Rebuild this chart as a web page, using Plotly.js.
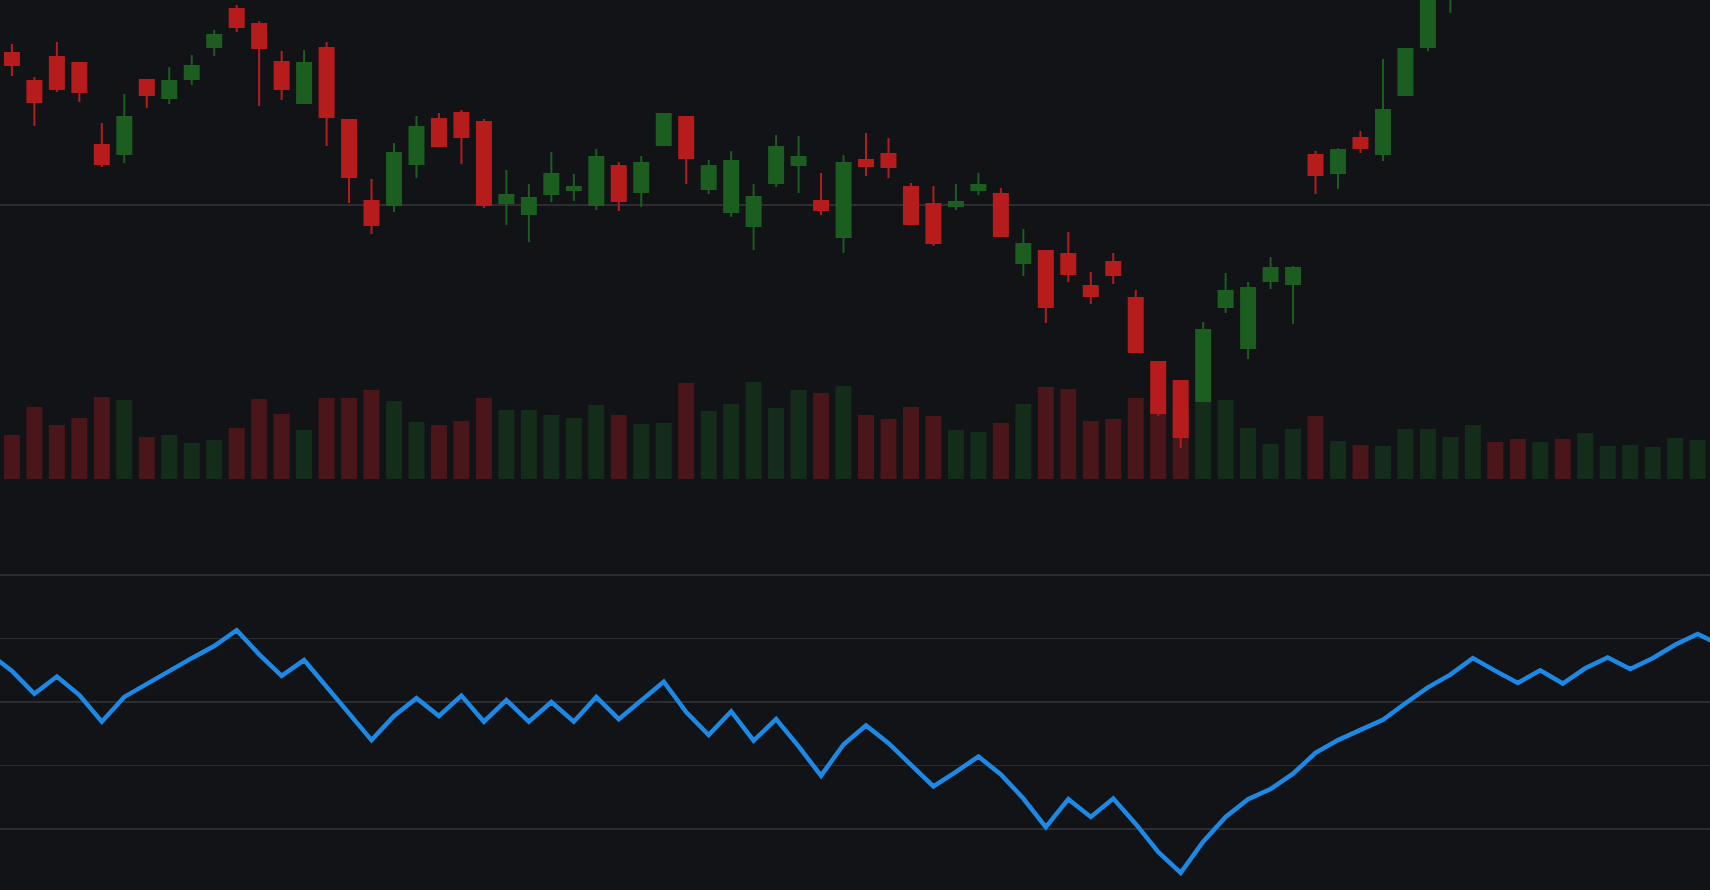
<!DOCTYPE html>
<html>
<head>
<meta charset="utf-8">
<script src="https://cdn.plot.ly/plotly-3.0.1.min.js"></script>
<style>
  html, body { margin: 0; padding: 0; background: #121317; }
  #chart { width: 1710px; height: 890px; }
</style>
</head>
<body>
<div id="chart"></div>
<script>
// price candles, one per session (sessions 65+ run off the top of the chart)
const openPrices = [
    165.2, 162.4, 164.8, 164.2, 156.0, 155.1, 162.5, 160.7, 162.6, 165.8,
    169.6, 168.1, 164.3, 160.2, 165.7, 158.5, 150.4, 150.0, 154.1, 158.6,
    159.2, 158.3, 150.2, 149.1, 151.1, 151.5, 150.0, 153.9, 151.3, 156.0,
    158.8, 151.6, 149.3, 147.9, 152.2, 154.0, 150.4, 146.8, 154.5, 155.1,
    151.8, 150.1, 149.9, 151.5, 151.1, 144.2, 145.4, 145.1, 141.9, 144.3,
    140.7, 134.3, 132.4, 130.4, 139.8, 135.7, 142.4, 142.1, 155.0, 153.2,
    156.7, 155.1, 161.0, 165.8, 170.8
];
const highPrices = [
    166.1, 162.8, 166.3, 164.2, 158.2, 161.1, 162.5, 163.8, 165.0, 167.5,
    170.0, 168.4, 165.4, 165.5, 166.3, 158.5, 152.6, 156.2, 158.9, 159.2,
    159.5, 158.6, 153.5, 152.1, 155.3, 153.1, 155.6, 154.3, 154.9, 159.1,
    158.8, 154.5, 155.4, 152.1, 157.0, 156.9, 153.2, 155.0, 157.2, 156.7,
    152.2, 151.9, 152.1, 153.2, 151.7, 147.6, 145.4, 147.3, 143.3, 145.2,
    141.5, 134.3, 132.5, 138.3, 143.2, 142.3, 144.8, 143.9, 155.4, 155.7,
    157.4, 164.6, 165.6, 171.5, 176.2
];
const lowPrices = [
    162.9, 157.9, 161.3, 160.3, 153.8, 154.2, 159.7, 160.1, 162.0, 164.9,
    167.3, 159.9, 160.5, 160.1, 155.9, 150.2, 147.1, 149.3, 152.7, 155.9,
    154.1, 149.7, 148.0, 146.3, 150.3, 150.4, 149.5, 149.4, 149.8, 156.0,
    152.1, 151.1, 148.8, 145.5, 151.8, 151.2, 149.0, 145.2, 152.9, 152.7,
    148.1, 145.9, 149.5, 151.0, 146.9, 142.9, 138.2, 142.3, 140.1, 142.1,
    135.3, 128.9, 125.7, 130.3, 139.2, 134.6, 141.6, 138.1, 151.1, 151.6,
    155.2, 154.4, 160.9, 165.4, 169.2
];
const closePrices = [
    164.0, 160.3, 161.6, 161.3, 154.1, 158.8, 161.0, 162.4, 163.9, 167.0,
    167.8, 165.7, 161.6, 164.2, 158.8, 152.8, 148.0, 155.2, 157.8, 155.9,
    156.8, 150.0, 151.0, 150.7, 153.1, 151.8, 154.8, 150.4, 154.2, 159.1,
    154.7, 153.9, 154.4, 150.8, 155.8, 154.8, 149.5, 154.2, 153.9, 153.8,
    148.1, 146.2, 150.3, 152.0, 146.9, 146.1, 139.8, 143.1, 140.9, 143.0,
    135.3, 129.2, 126.8, 137.5, 141.4, 141.7, 143.7, 143.7, 153.0, 155.5,
    155.7, 159.5, 165.6, 170.4, 175.5
];

// volume (millions), all 76 visible sessions
const volumes = [
    4.4, 7.2, 5.4, 6.1, 8.2, 7.9, 4.2, 4.4, 3.6, 3.9,
    5.1, 8.0, 6.5, 4.9, 8.1, 8.1, 8.9, 7.8, 5.7, 5.4,
    5.8, 8.1, 6.9, 6.9, 6.4, 6.1, 7.4, 6.4, 5.5, 5.6,
    9.6, 6.8, 7.5, 9.7, 7.1, 8.9, 8.6, 9.3, 6.4, 6.0,
    7.2, 6.3, 4.9, 4.7, 5.6, 7.5, 9.2, 9.0, 5.8, 6.0,
    8.1, 7.9, 6.9, 8.0, 7.9, 5.1, 3.5, 5.0, 6.3, 3.8,
    3.4, 3.3, 5.0, 5.0, 4.2, 5.4, 3.7, 4.0, 3.7, 4.0,
    4.6, 3.3, 3.4, 3.2, 4.1, 3.9
];
// up/down for the sessions whose candles are above the visible range
const tailUp = [true, false, false, true, false, true, true, true, true, true, true];

// oscillator, sessions -1 .. 76
const oscillator = [
    57.6, 54.9, 51.3, 54.0, 51.1, 46.9, 50.8, 52.9, 54.9, 56.9, 58.8,
    61.3, 57.5, 54.1, 56.6, 52.4, 48.2, 44.0, 47.8, 50.6, 47.8,
    51.0, 46.9, 50.3, 46.9, 50.0, 46.9, 50.8, 47.3, 50.3, 53.2,
    48.4, 44.8, 48.5, 43.9, 47.3, 43.0, 38.4, 43.3, 46.3, 43.5,
    40.1, 36.7, 39.0, 41.4, 38.6, 34.8, 30.3, 34.7, 31.9, 34.8,
    30.8, 26.4, 23.1, 28.0, 31.9, 34.7, 36.3, 38.7, 42.0, 44.0,
    45.6, 47.2, 49.8, 52.3, 54.3, 56.9, 54.9, 53.0, 55.0, 52.9,
    55.3, 57.0, 55.2, 56.9, 59.0, 60.7, 59.0
];

const upColor = '#1b5e20';
const downColor = '#b71c1c';

const candleX = openPrices.map((_, i) => i);
const volX = volumes.map((_, i) => i);
const oscX = oscillator.map((_, i) => i - 1);

const volColors = volumes.map((_, i) => {
    const up = i < openPrices.length ? closePrices[i] >= openPrices[i] : tailUp[i - openPrices.length];
    return up ? 'rgba(27,94,32,0.35)' : 'rgba(183,28,28,0.35)';
});

const volumeTrace = {
    type: 'bar',
    x: volX,
    y: volumes,
    width: 0.71,
    marker: { color: volColors, line: { width: 0 } },
    xaxis: 'x',
    yaxis: 'y',
    hoverinfo: 'skip'
};

const candleTrace = {
    type: 'candlestick',
    x: candleX,
    open: openPrices,
    high: highPrices,
    low: lowPrices,
    close: closePrices,
    increasing: { line: { color: upColor, width: 2 }, fillcolor: upColor },
    decreasing: { line: { color: downColor, width: 2 }, fillcolor: downColor },
    xaxis: 'x',
    yaxis: 'y2',
    hoverinfo: 'skip'
};

const oscTrace = {
    type: 'scatter',
    mode: 'lines',
    x: oscX,
    y: oscillator,
    line: { color: '#1e88e5', width: 4.5 },
    xaxis: 'x',
    yaxis: 'y3',
    hoverinfo: 'skip'
};

const hidden = {
    showticklabels: false,
    zeroline: false,
    showline: false,
    ticks: ''
};

const layout = {
    width: 1710,
    height: 890,
    margin: { l: 0, r: 0, t: 0, b: 0 },
    paper_bgcolor: '#121317',
    plot_bgcolor: '#121317',
    showlegend: false,
    boxgap: 0.377,
    boxgroupgap: 0,
    xaxis: Object.assign({}, hidden, {
        range: [-0.53, 75.55],
        showgrid: false,
        rangeslider: { visible: false },
        anchor: 'y3'
    }),
    yaxis: Object.assign({}, hidden, {
        domain: [0.4618, 1],
        range: [0, 47.9],
        showgrid: false
    }),
    yaxis2: Object.assign({}, hidden, {
        overlaying: 'y',
        range: [122.6, 170.5],
        tick0: 0,
        dtick: 50,
        showgrid: true,
        gridcolor: '#2c2d31',
        gridwidth: 1.5
    }),
    yaxis3: Object.assign({}, hidden, {
        domain: [0, 0.38],
        range: [20.39, 73.65],
        tick0: 0,
        dtick: 10,
        showgrid: true,
        gridcolor: '#2c2d31',
        gridwidth: 1.5
    })
};

Plotly.newPlot('chart', [volumeTrace, candleTrace, oscTrace], layout, { staticPlot: true, displayModeBar: false });
</script>
</body>
</html>
